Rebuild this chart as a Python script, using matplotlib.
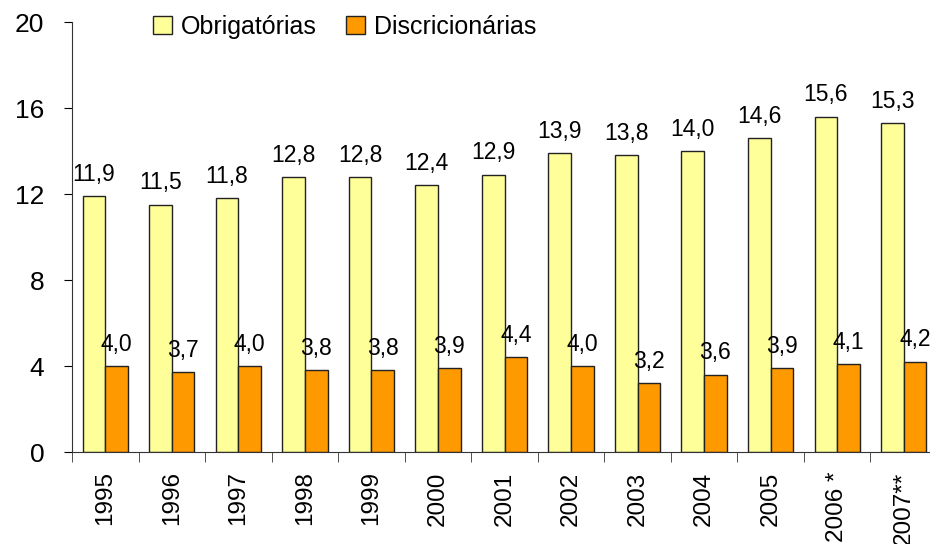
import numpy as np
import matplotlib
matplotlib.use("Agg")
import matplotlib.pyplot as plt

plt.rcParams['font.family'] = ['Liberation Sans', 'DejaVu Sans']

anos = ["1995", "1996", "1997", "1998", "1999", "2000", "2001", "2002",
        "2003", "2004", "2005", "2006 *", "2007**"]
obrigatorias = [11.9, 11.5, 11.8, 12.8, 12.8, 12.4, 12.9, 13.9, 13.8, 14.0, 14.6, 15.6, 15.3]
discricionarias = [4.0, 3.7, 4.0, 3.8, 3.8, 3.9, 4.4, 4.0, 3.2, 3.6, 3.9, 4.1, 4.2]

fig = plt.figure(figsize=(9.3, 5.44), dpi=100)
# axes runs a little past the right edge, like the original
ax = fig.add_axes([72 / 930, 92 / 544, 865 / 930, 430 / 544])

x = np.arange(len(anos))
w = 0.34
b1 = ax.bar(x - w / 2, obrigatorias, w, color="#FFFF99", edgecolor="#222222",
            linewidth=1, label="Obrigatórias")
b2 = ax.bar(x + w / 2, discricionarias, w, color="#FF9900", edgecolor="#222222",
            linewidth=1, label="Discricionárias")

# value labels with comma decimals
for bars, vals in ((b1, obrigatorias), (b2, discricionarias)):
    for r, v in zip(bars, vals):
        ax.annotate(f"{v:.1f}".replace(".", ","),
                    (r.get_x() + r.get_width() / 2, v),
                    xytext=(0, 11), textcoords="offset points",
                    ha="center", va="baseline", fontsize=16.5)

ax.set_xlim(-0.5, len(anos) - 0.5)
ax.set_ylim(0, 20)
ax.set_yticks([0, 4, 8, 12, 16, 20])
ax.tick_params(axis="y", labelsize=19, length=6, direction="out", pad=14)

ax.set_xticks(x)
ax.set_xticklabels(anos, rotation=90, fontsize=17.5)
ax.set_xticks(np.arange(len(anos) + 1) - 0.5, minor=True)
ax.tick_params(axis="x", which="major", length=0, pad=14)
ax.tick_params(axis="x", which="minor", length=7, direction="out", color="#333333")

for s in ("top", "right"):
    ax.spines[s].set_visible(False)
ax.spines["left"].set_color("#333333")
ax.spines["bottom"].set_color("#333333")

fig.legend(loc="center left", bbox_to_anchor=(143 / 930, 1 - 27 / 544),
           ncol=2, frameon=False, fontsize=18, handlelength=0.75, handleheight=0.75,
           handletextpad=0.35, columnspacing=1.2, borderaxespad=0)

fig.savefig("out.png", dpi=100)
